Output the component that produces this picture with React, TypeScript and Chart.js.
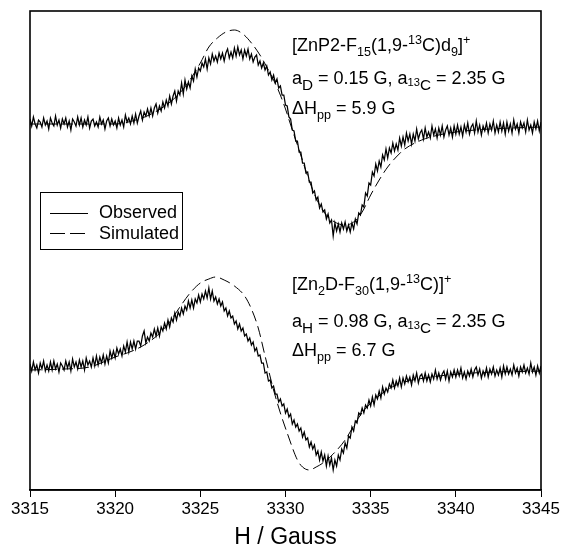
import React, { useEffect, useRef } from 'react';
import { Chart, registerables } from 'chart.js';

Chart.register(...registerables);

// ---- data -------------------------------------------------------------
const FIELD_START = 3315; // G, first sample of the observed sweeps
const FIELD_STEP = 0.1; // G between observed samples
const X_MIN = 3315;
const X_MAX = 3345;
const X_TICKS = [3315, 3320, 3325, 3330, 3335, 3340, 3345];
const X_TITLE = 'H / Gauss';
const SERIES_LABELS = ['Observed', 'Simulated'];

// vertical stacking offsets of the two spectra (arbitrary units)
const TOP_OFFSET = 365;
const BOTTOM_OFFSET = 120;
const Y_MIN = 0;
const Y_MAX = 479;

// [ZnP2-F15(1,9-13C)d9]+ observed derivative spectrum (one row = 1 G)
const TOP_OBSERVED = [
  6, -1, 8, 1, -3, 5, 3, -2, 7, 0,
  4, -4, 7, 2, -1, 9, 0, 5, -3, 6,
  1, 7, -2, 4, -5, 6, 3, -1, 8, 0,
  7, -2, 5, 0, 8, -3, 4, 6, -1, 3,
  -2, 8, 1, 5, -4, 4, 7, -1, 6, 0,
  4, -3, 7, 0, 5, -2, 10, 3, 7, 1,
  9, 2, 11, 2, 9, 14, 5, 13, 9, 16,
  9, 17, 9, 17, 21, 12, 19, 14, 23, 17,
  25, 19, 29, 21, 29, 34, 24, 34, 30, 42,
  31, 45, 36, 43, 37, 49, 44, 56, 48, 57,
  54, 62, 58, 66, 56, 67, 61, 71, 64, 69,
  63, 72, 66, 72, 64, 72, 76, 67, 73, 67,
  77, 69, 78, 70, 75, 66, 75, 69, 76, 66,
  71, 63, 68, 70, 60, 64, 57, 62, 55, 59,
  50, 53, 45, 50, 42, 46, 37, 39, 30, 30,
  20, 19, 8, 6, -5, -6, -16, -16, -27, -27,
  -38, -38, -48, -47, -57, -57, -68, -66, -75, -72,
  -83, -79, -87, -85, -94, -89, -98, -95, -111, -98,
  -106, -99, -107, -98, -104, -97, -106, -100, -107, -98,
  -104, -94, -99, -88, -90, -80, -82, -68, -71, -58,
  -60, -47, -51, -39, -46, -36, -42, -30, -35, -24,
  -33, -23, -28, -18, -26, -19, -25, -13, -21, -12,
  -20, -8, -16, -9, -19, -9, -16, -4, -14, -8,
  -5, -14, -3, -12, -7, -13, -1, -10, -4, -13,
  -3, -10, -1, -12, -5, -1, -10, -3, -12, -1,
  -9, 0, -9, -2, -11, 0, -7, 2, -9, -2,
  1, -8, 4, -7, 0, -10, -1, -6, 2, -8,
  1, -5, 4, -8, 0, -7, 3, -6, 2, -9,
  3, -6, 1, -8, 5, -4, 1, -8, 3, -3,
  2, -7, 5, -5, 0, -8, 3, -4, 4, -6,
  3,
];

// [Zn2D-F30(1,9-13C)]+ observed derivative spectrum (one row = 1 G)
const BOTTOM_OBSERVED = [
  6, -1, 8, 0, 5, -3, 7, 1, 9, -1,
  5, -1, 8, 0, 9, 1, 6, -2, 7, 4,
  0, 9, 2, 8, -1, 11, 3, 8, 1, 10,
  3, 9, 0, 12, 5, 9, 3, 12, 4, 14,
  5, 13, 7, 15, 6, 14, 7, 19, 12, 19,
  12, 22, 16, 21, 14, 24, 18, 28, 18, 28,
  21, 29, 21, 29, 29, 24, 34, 39, 27, 33,
  29, 37, 33, 41, 34, 42, 34, 43, 39, 47,
  41, 50, 43, 52, 48, 57, 50, 58, 54, 62,
  56, 64, 60, 69, 62, 70, 62, 71, 67, 75,
  68, 76, 71, 79, 72, 82, 71, 79, 69, 73,
  66, 71, 64, 68, 59, 62, 54, 59, 52, 54,
  46, 49, 41, 46, 39, 42, 34, 36, 29, 32,
  25, 28, 19, 22, 14, 15, 7, 7, -3, -2,
  -11, -10, -18, -16, -24, -24, -32, -29, -36, -34,
  -43, -39, -47, -44, -54, -50, -57, -54, -61, -58,
  -67, -62, -70, -68, -77, -72, -79, -75, -85, -81,
  -90, -82, -91, -85, -96, -86, -95, -88, -100, -90,
  -96, -85, -90, -79, -83, -73, -78, -66, -68, -57,
  -61, -51, -53, -43, -45, -38, -43, -35, -38, -30,
  -36, -27, -35, -25, -29, -21, -28, -17, -24, -18,
  -22, -14, -18, -10, -18, -11, -16, -8, -17, -8,
  -14, -6, -12, -7, -15, -5, -11, -3, -13, -6,
  -4, -11, -3, -11, -5, -12, -4, -9, 0, -9,
  -3, -10, -4, -1, -9, -1, -11, -2, -7, 0,
  -7, 0, -6, 2, -8, -2, -9, -1, -6, 1,
  -7, 0, 3, -5, 1, -8, -1, -6, 2, -7,
  1, -4, 3, -6, 0, -5, 2, -7, 4, -4,
  3, -4, 1, -5, 5, -3, 2, -6, 3, -2,
  5, -3, 2, -4, 7, -2, 3, -5, 4, -3,
  4,
];

// simulated spectra
const TOP_SIM_FIELD = [
  3315, 3318, 3320, 3321, 3322, 3323, 3323.5, 3324, 3324.5, 3325,
  3325.5, 3326, 3326.5, 3327, 3327.5, 3328, 3328.5, 3328.9, 3329.3, 3329.6,
  3330, 3330.4, 3330.8, 3331.2, 3331.6, 3332, 3332.5, 3333, 3333.5, 3334,
  3334.5, 3335, 3335.5, 3336, 3336.5, 3337, 3338, 3339, 3340, 3342,
  3345,
];
const TOP_SIMULATED = [
  1, 1, 1, 4, 10, 20, 27, 36, 48, 62,
  78, 87, 93, 95, 91, 82, 70, 58, 45, 34,
  16, -5, -25, -46, -65, -80, -92, -98, -100, -97,
  -87, -70, -55, -42, -32, -24, -15, -10, -7, -4,
  -2,
];
const BOTTOM_SIM_FIELD = [
  3315, 3317, 3318.5, 3320, 3321, 3321.7, 3322.5, 3323.2, 3323.8, 3324.4,
  3325, 3325.5, 3325.9, 3326.4, 3327, 3327.6, 3328, 3328.4, 3328.8, 3329.3,
  3329.7, 3330.1, 3330.7, 3331, 3331.4, 3331.8, 3332.2, 3332.8, 3333.5, 3334,
  3334.4, 3335.2, 3336.5, 3338.6, 3341, 3345,
];
const BOTTOM_SIMULATED = [
  0, 1, 3, 13, 19, 25, 35, 48, 63, 77,
  87, 91, 93, 90, 84, 74, 61, 42, 14, -20,
  -43, -63, -90, -97, -100, -97, -93, -84, -70, -56,
  -45, -30, -15, -7, -3, -1,
];

type Seg = [string, string];
const TOP_NOTE: Seg[][] = [
  [['[ZnP2-F', 'n'], ['15', 'sub'], ['(1,9-', 'n'], ['13', 'sup'], ['C)d', 'n'], ['9', 'sub'], [']', 'n'], ['+', 'sup']],
  [['a', 'n'], ['D', 'subL'], [' = 0.15 G, a', 'n'], ['13', 'sub13'], ['C', 'subL'], [' = 2.35 G', 'n']],
  [['\u0394H', 'n'], ['pp', 'sub'], [' = 5.9 G', 'n']],
];
const BOTTOM_NOTE: Seg[][] = [
  [['[Zn', 'n'], ['2', 'sub'], ['D-F', 'n'], ['30', 'sub'], ['(1,9-', 'n'], ['13', 'sup'], ['C)]', 'n'], ['+', 'sup']],
  [['a', 'n'], ['H', 'subL'], [' = 0.98 G, a', 'n'], ['13', 'sub13'], ['C', 'subL'], [' = 2.35 G', 'n']],
  [['\u0394H', 'n'], ['pp', 'sub'], [' = 6.7 G', 'n']],
];

// ---- drawing helpers --------------------------------------------------
const FONT = '"Liberation Sans", Arial, Helvetica, sans-serif';
const KIND: Record<string, { scale: number; dy: number }> = {
  n: { scale: 1, dy: 0 },
  sub: { scale: 0.7, dy: 0.3 },
  subL: { scale: 0.85, dy: 0.33 },
  sub13: { scale: 0.62, dy: 0.1 },
  sup: { scale: 0.7, dy: -0.4 },
};

function drawRich(ctx: CanvasRenderingContext2D, x: number, y: number, segs: Seg[], size: number) {
  let cx = x;
  ctx.textAlign = 'left';
  ctx.textBaseline = 'alphabetic';
  for (const [t, k] of segs) {
    const { scale, dy } = KIND[k];
    ctx.font = `${size * scale}px ${FONT}`;
    ctx.fillText(t, cx, y + dy * size);
    cx += ctx.measureText(t).width;
  }
}

const decorPlugin = {
  id: 'decor',
  afterDatasetsDraw(chart: any) {
    const ctx: CanvasRenderingContext2D = chart.ctx;
    const a = chart.chartArea;
    ctx.save();
    ctx.fillStyle = '#000';
    ctx.strokeStyle = '#000';
    // frame
    ctx.lineWidth = 1.6;
    ctx.strokeRect(a.left, a.top, a.right - a.left, a.bottom - a.top);

    // annotations
    const size = 18;
    const tx = a.left + 262;
    const topBase = [51, 84, 114];
    const botBase = [290, 327, 356];
    TOP_NOTE.forEach((line, i) => drawRich(ctx, tx, topBase[i], line, size));
    BOTTOM_NOTE.forEach((line, i) => drawRich(ctx, tx, botBase[i], line, size));

    // legend
    ctx.lineWidth = 1;
    ctx.strokeRect(40.5, 192.5, 142, 57);
    ctx.beginPath();
    ctx.moveTo(50, 213.5);
    ctx.lineTo(88, 213.5);
    ctx.stroke();
    ctx.setLineDash([15, 5]);
    ctx.beginPath();
    ctx.moveTo(50, 233.5);
    ctx.lineTo(88, 233.5);
    ctx.stroke();
    ctx.setLineDash([]);
    ctx.font = `18px ${FONT}`;
    ctx.textBaseline = 'middle';
    ctx.textAlign = 'left';
    ctx.fillText(SERIES_LABELS[0], 99, 213);
    ctx.fillText(SERIES_LABELS[1], 99, 234);

    // axis title
    ctx.font = `23px ${FONT}`;
    ctx.textAlign = 'center';
    ctx.textBaseline = 'middle';
    ctx.fillText(X_TITLE, (a.left + a.right) / 2, 538);
    ctx.restore();
  },
};

export default function App() {
  const ref = useRef<HTMLCanvasElement | null>(null);

  useEffect(() => {
    const canvas = ref.current;
    if (!canvas) return;
    const obs = (vals: number[], off: number) =>
      vals.map((v, i) => ({ x: FIELD_START + i * FIELD_STEP, y: v + off }));
    const sim = (fields: number[], vals: number[], off: number) =>
      fields.map((f, i) => ({ x: f, y: vals[i] + off }));

    const common = { borderColor: '#000', pointRadius: 0, fill: false };
    const chart = new Chart(canvas, {
      type: 'line',
      data: {
        datasets: [
          { ...common, label: SERIES_LABELS[0], data: obs(TOP_OBSERVED, TOP_OFFSET), borderWidth: 1.25, tension: 0 },
          { ...common, label: SERIES_LABELS[0], data: obs(BOTTOM_OBSERVED, BOTTOM_OFFSET), borderWidth: 1.25, tension: 0 },
          { ...common, label: SERIES_LABELS[1], data: sim(TOP_SIM_FIELD, TOP_SIMULATED, TOP_OFFSET), borderWidth: 1, borderDash: [11, 5], cubicInterpolationMode: 'monotone' },
          { ...common, label: SERIES_LABELS[1], data: sim(BOTTOM_SIM_FIELD, BOTTOM_SIMULATED, BOTTOM_OFFSET), borderWidth: 1, borderDash: [11, 5], cubicInterpolationMode: 'monotone' },
        ],
      } as any,
      options: {
        animation: false,
        responsive: false,
        maintainAspectRatio: false,
        layout: { padding: { left: 30, right: 21, top: 11, bottom: 0 } },
        plugins: { legend: { display: false }, tooltip: { enabled: false } },
        scales: {
          x: {
            type: 'linear',
            min: X_MIN,
            max: X_MAX,
            afterBuildTicks: (s: any) => {
              s.ticks = X_TICKS.map((v) => ({ value: v }));
            },
            afterFit: (s: any) => {
              s.height = 58;
            },
            grid: { drawOnChartArea: false, drawTicks: true, tickLength: 7, color: '#000', lineWidth: 1 },
            border: { display: true, color: '#000', width: 1.6 },
            ticks: {
              color: '#000',
              font: { size: 17, family: FONT },
              padding: 2,
              maxRotation: 0,
              autoSkip: false,
              callback: (v: any) => String(v),
            },
          },
          y: { display: false, min: Y_MIN, max: Y_MAX },
        },
      } as any,
      plugins: [decorPlugin],
    });
    return () => chart.destroy();
  }, []);

  return (
    <div style={{ position: 'fixed', left: 0, top: 0, width: 562, height: 548, background: '#fff' }}>
      <canvas ref={ref} width={562} height={548} style={{ display: 'block', width: 562, height: 548 }} />
    </div>
  );
}
